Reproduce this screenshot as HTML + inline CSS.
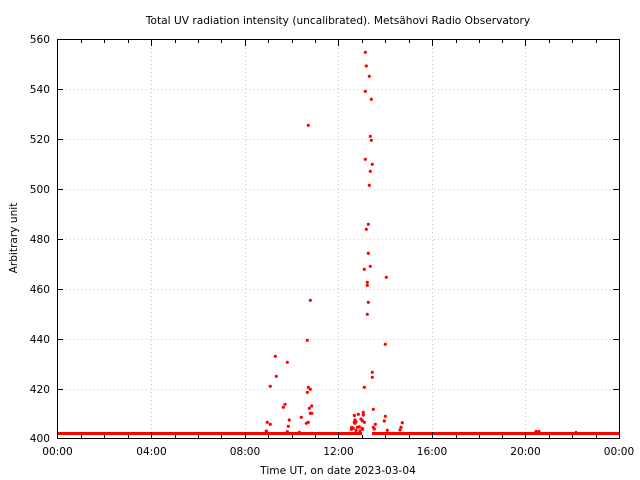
<!DOCTYPE html>
<html><head><meta charset="utf-8"><style>
html,body{margin:0;padding:0;background:#fff;}
svg{display:block;}
text{font-family:"DejaVu Sans","Liberation Sans",sans-serif;font-size:10.6px;fill:#000;}
</style></head><body>
<svg width="640" height="480" viewBox="0 0 640 480" xmlns="http://www.w3.org/2000/svg">
<rect width="640" height="480" fill="#fff"/>
<g stroke="#c8c8c8" stroke-width="1" stroke-dasharray="1,3" fill="none">
<line x1="151.5" y1="40" x2="151.5" y2="438"/>
<line x1="245.5" y1="40" x2="245.5" y2="438"/>
<line x1="338.5" y1="40" x2="338.5" y2="438"/>
<line x1="432.5" y1="40" x2="432.5" y2="438"/>
<line x1="525.5" y1="40" x2="525.5" y2="438"/>
<line x1="58" y1="89.5" x2="619" y2="89.5"/>
<line x1="58" y1="139.5" x2="619" y2="139.5"/>
<line x1="58" y1="189.5" x2="619" y2="189.5"/>
<line x1="58" y1="239.5" x2="619" y2="239.5"/>
<line x1="58" y1="289.5" x2="619" y2="289.5"/>
<line x1="58" y1="339.5" x2="619" y2="339.5"/>
<line x1="58" y1="389.5" x2="619" y2="389.5"/>
</g>
<rect x="57" y="432" width="305" height="3" fill="#f00"/>
<rect x="372" y="432" width="247" height="3" fill="#f00"/>
<g fill="#f00">
<circle cx="365.3" cy="52.3" r="1.6"/><circle cx="366.3" cy="66" r="1.6"/><circle cx="369.3" cy="76.3" r="1.6"/>
<circle cx="365.3" cy="91.3" r="1.6"/><circle cx="371.3" cy="99.3" r="1.6"/><circle cx="308.3" cy="125.3" r="1.6"/>
<circle cx="370.3" cy="136.3" r="1.6"/><circle cx="371.3" cy="140.3" r="1.6"/><circle cx="365.3" cy="159.3" r="1.6"/>
<circle cx="372.3" cy="164.3" r="1.6"/><circle cx="370.3" cy="171.3" r="1.6"/><circle cx="369.3" cy="185.3" r="1.6"/>
<circle cx="368.3" cy="224.3" r="1.6"/><circle cx="366.3" cy="229.3" r="1.6"/><circle cx="368.3" cy="253.3" r="1.6"/>
<circle cx="364.3" cy="269.3" r="1.6"/><circle cx="370.3" cy="266.3" r="1.6"/><circle cx="386.3" cy="277.3" r="1.6"/>
<circle cx="367.3" cy="282.3" r="1.6"/><circle cx="367.3" cy="285.3" r="1.6"/><circle cx="310.3" cy="300.3" r="1.6"/>
<circle cx="368.3" cy="302.3" r="1.6"/><circle cx="367.3" cy="314.3" r="1.6"/><circle cx="307.3" cy="340.3" r="1.6"/>
<circle cx="385.3" cy="344.3" r="1.6"/><circle cx="275.3" cy="356.3" r="1.6"/><circle cx="287.3" cy="362.3" r="1.6"/>
<circle cx="276.3" cy="376.3" r="1.6"/><circle cx="372.3" cy="372.3" r="1.6"/><circle cx="372.3" cy="377.3" r="1.6"/>
<circle cx="270.3" cy="386.3" r="1.6"/><circle cx="308.3" cy="387.3" r="1.6"/><circle cx="310.3" cy="389.3" r="1.6"/>
<circle cx="307.3" cy="392.3" r="1.6"/><circle cx="364.3" cy="387.3" r="1.6"/>
<circle cx="285" cy="404.3" r="1.6"/><circle cx="283.3" cy="407.3" r="1.6"/><circle cx="311.7" cy="406" r="1.6"/>
<circle cx="309.3" cy="408.3" r="1.6"/><circle cx="310.3" cy="413.3" r="1.6"/><circle cx="311.7" cy="413.3" r="1.6"/>
<circle cx="373.3" cy="409.3" r="1.6"/><circle cx="289.3" cy="420" r="1.6"/><circle cx="301.3" cy="417.3" r="1.6"/>
<circle cx="267.3" cy="422.3" r="1.6"/><circle cx="270.3" cy="424.3" r="1.6"/><circle cx="308.3" cy="422.3" r="1.6"/>
<circle cx="306.3" cy="423.3" r="1.6"/><circle cx="288.3" cy="426.3" r="1.6"/><circle cx="266.3" cy="431" r="1.6"/>
<circle cx="287.3" cy="431.7" r="1.6"/><circle cx="299.3" cy="432.3" r="1.6"/>
<circle cx="354.3" cy="415.5" r="1.6"/><circle cx="358.3" cy="414.3" r="1.6"/><circle cx="363.3" cy="412.3" r="1.6"/>
<circle cx="363.3" cy="415" r="1.6"/><circle cx="355" cy="420" r="1.6"/><circle cx="356" cy="421.7" r="1.6"/>
<circle cx="361" cy="419" r="1.6"/><circle cx="362.3" cy="420.7" r="1.6"/><circle cx="355" cy="423.3" r="1.6"/>
<circle cx="354.3" cy="422.3" r="1.6"/><circle cx="364.3" cy="422.3" r="1.6"/>
<circle cx="351.7" cy="427.3" r="1.6"/><circle cx="353.3" cy="428.3" r="1.6"/><circle cx="357.3" cy="427.3" r="1.6"/>
<circle cx="359.3" cy="426.7" r="1.6"/><circle cx="362.3" cy="428.3" r="1.6"/><circle cx="362.7" cy="429.3" r="1.6"/>
<circle cx="351.3" cy="429.3" r="1.6"/><circle cx="356" cy="430.5" r="1.6"/><circle cx="360" cy="431" r="1.6"/>
<circle cx="373.3" cy="427.3" r="1.6"/><circle cx="374.3" cy="429" r="1.6"/><circle cx="375.3" cy="424.3" r="1.6"/>
<circle cx="385.3" cy="416.3" r="1.6"/><circle cx="384.3" cy="421" r="1.6"/><circle cx="387.3" cy="430.3" r="1.6"/>
<circle cx="402.3" cy="422.7" r="1.6"/><circle cx="401" cy="427.3" r="1.6"/><circle cx="400" cy="430" r="1.6"/>
<circle cx="536" cy="431.5" r="1.6"/><circle cx="539" cy="431.5" r="1.6"/><circle cx="576" cy="432" r="1.3"/>
</g>
<g stroke="#000" stroke-width="1" fill="none">
<path d="M151.5 438V432M245.5 438V432M338.5 438V432M432.5 438V432M525.5 438V432
M151.5 40V46M245.5 40V46M338.5 40V46M432.5 40V46M525.5 40V46"/>
<path d="M81.5 438V435M104.5 438V435M128.5 438V435M175.5 438V435M198.5 438V435M221.5 438V435M268.5 438V435M292.5 438V435M315.5 438V435M362.5 438V435M385.5 438V435M409.5 438V435M456.5 438V435M479.5 438V435M502.5 438V435M549.5 438V435M572.5 438V435M596.5 438V435
M81.5 40V43M104.5 40V43M128.5 40V43M175.5 40V43M198.5 40V43M221.5 40V43M268.5 40V43M292.5 40V43M315.5 40V43M362.5 40V43M385.5 40V43M409.5 40V43M456.5 40V43M479.5 40V43M502.5 40V43M549.5 40V43M572.5 40V43M596.5 40V43"/>
<path d="M58 89.5H63M58 139.5H63M58 189.5H63M58 239.5H63M58 289.5H63M58 339.5H63M58 389.5H63
M619 89.5H613M619 139.5H613M619 189.5H613M619 239.5H613M619 289.5H613M619 339.5H613M619 389.5H613"/>
<rect x="57.5" y="39.5" width="562" height="399"/>
</g>
<g text-anchor="end">
<text x="50" y="43">560</text>
<text x="50" y="93">540</text>
<text x="50" y="143">520</text>
<text x="50" y="193">500</text>
<text x="50" y="243">480</text>
<text x="50" y="293">460</text>
<text x="50" y="343">440</text>
<text x="50" y="393">420</text>
<text x="50" y="442">400</text>
</g>
<g text-anchor="middle">
<text x="57.5" y="455">00:00</text>
<text x="151.5" y="455">04:00</text>
<text x="245" y="455">08:00</text>
<text x="338.5" y="455">12:00</text>
<text x="432" y="455">16:00</text>
<text x="525.5" y="455">20:00</text>
<text x="619" y="455">00:00</text>
<text x="338" y="474">Time UT, on date 2023-03-04</text>
<text x="338" y="24">Total UV radiation intensity (uncalibrated). Metsähovi Radio Observatory</text>
<text x="17" y="238" transform="rotate(-90 17 238)">Arbitrary unit</text>
</g>
</svg>
</body></html>
